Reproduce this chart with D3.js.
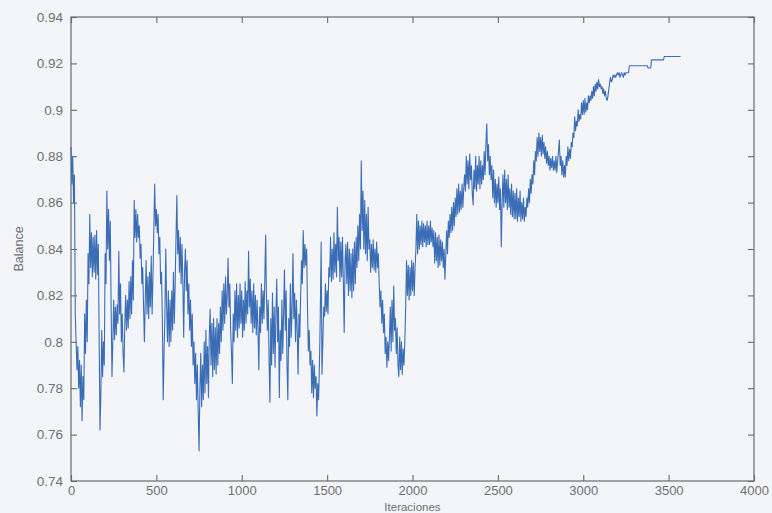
<!DOCTYPE html>
<html>
<head>
<meta charset="utf-8">
<script src="https://cdn.jsdelivr.net/npm/d3@7"></script>
<style>
  html, body { margin: 0; padding: 0; background: #f4f5f9; }
  svg { display: block; }
  text { font-family: "Liberation Sans", Arial, Helvetica, sans-serif; }
</style>
</head>
<body>
<script>
// ---- data ----
const iterStep = 5;            // iterations between consecutive samples
const balance = [
  // 0-45
  0.884, 0.868, 0.880, 0.860, 0.872, 0.812, 0.800, 0.788, 0.798, 0.780,
  // 50-95
  0.792, 0.772, 0.790, 0.766, 0.785, 0.775, 0.812, 0.795, 0.818, 0.800,
  // 100-145
  0.838, 0.825, 0.855, 0.832, 0.847, 0.828, 0.845, 0.830, 0.846, 0.827,
  // 150-195
  0.848, 0.829, 0.842, 0.800, 0.762, 0.778, 0.805, 0.785, 0.800, 0.790,
  // 200-245
  0.838, 0.825, 0.865, 0.840, 0.857, 0.835, 0.852, 0.815, 0.785, 0.800,
  // 250-295
  0.818, 0.801, 0.815, 0.803, 0.816, 0.808, 0.839, 0.812, 0.825, 0.800,
  // 300-345
  0.812, 0.795, 0.787, 0.808, 0.820, 0.805, 0.818, 0.806, 0.826, 0.810,
  // 350-395
  0.828, 0.812, 0.835, 0.818, 0.861, 0.845, 0.857, 0.843, 0.855, 0.845,
  // 400-445
  0.850, 0.836, 0.842, 0.825, 0.832, 0.815, 0.800, 0.818, 0.835, 0.812,
  // 450-495
  0.828, 0.810, 0.830, 0.815, 0.837, 0.812, 0.828, 0.848, 0.868, 0.850,
  // 500-545
  0.857, 0.847, 0.855, 0.838, 0.845, 0.825, 0.830, 0.810, 0.775, 0.795,
  // 550-595
  0.812, 0.840, 0.815, 0.800, 0.822, 0.798, 0.818, 0.800, 0.822, 0.805,
  // 600-645
  0.830, 0.808, 0.825, 0.845, 0.863, 0.838, 0.848, 0.830, 0.845, 0.825,
  // 650-695
  0.842, 0.826, 0.802, 0.830, 0.840, 0.822, 0.835, 0.812, 0.825, 0.805,
  // 700-745
  0.818, 0.798, 0.812, 0.790, 0.800, 0.782, 0.795, 0.775, 0.790, 0.770,
  // 750-795
  0.753, 0.780, 0.795, 0.772, 0.790, 0.775, 0.800, 0.778, 0.805, 0.782,
  // 800-845
  0.798, 0.776, 0.803, 0.814, 0.790, 0.808, 0.785, 0.810, 0.788, 0.806,
  // 850-895
  0.786, 0.810, 0.790, 0.808, 0.795, 0.815, 0.800, 0.822, 0.805, 0.825,
  // 900-945
  0.808, 0.828, 0.812, 0.820, 0.836, 0.815, 0.825, 0.805, 0.795, 0.782,
  // 950-995
  0.812, 0.800, 0.822, 0.805, 0.825, 0.802, 0.820, 0.806, 0.825, 0.808,
  // 1000-1045
  0.822, 0.802, 0.818, 0.805, 0.826, 0.808, 0.822, 0.812, 0.839, 0.815,
  // 1050-1095
  0.827, 0.808, 0.822, 0.804, 0.825, 0.806, 0.820, 0.803, 0.818, 0.805,
  // 1100-1145
  0.788, 0.815, 0.804, 0.825, 0.808, 0.822, 0.810, 0.827, 0.846, 0.818,
  // 1150-1195
  0.805, 0.818, 0.792, 0.774, 0.810, 0.790, 0.821, 0.795, 0.815, 0.789,
  // 1200-1245
  0.812, 0.827, 0.800, 0.815, 0.776, 0.805, 0.792, 0.818, 0.795, 0.812,
  // 1250-1295
  0.831, 0.805, 0.822, 0.790, 0.775, 0.810, 0.798, 0.825, 0.802, 0.815,
  // 1300-1345
  0.838, 0.810, 0.821, 0.800, 0.818, 0.805, 0.786, 0.812, 0.802, 0.820,
  // 1350-1395
  0.835, 0.825, 0.848, 0.832, 0.842, 0.833, 0.840, 0.815, 0.796, 0.805,
  // 1400-1445
  0.790, 0.796, 0.778, 0.792, 0.776, 0.790, 0.780, 0.785, 0.768, 0.782,
  // 1450-1495
  0.775, 0.790, 0.812, 0.843, 0.786, 0.800, 0.815, 0.811, 0.825, 0.813,
  // 1500-1545
  0.822, 0.812, 0.832, 0.828, 0.845, 0.826, 0.840, 0.827, 0.847, 0.830,
  // 1550-1595
  0.842, 0.828, 0.858, 0.835, 0.845, 0.826, 0.843, 0.828, 0.845, 0.826,
  // 1600-1645
  0.804, 0.835, 0.842, 0.825, 0.843, 0.820, 0.840, 0.822, 0.838, 0.819,
  // 1650-1695
  0.840, 0.822, 0.843, 0.825, 0.845, 0.832, 0.850, 0.835, 0.855, 0.840,
  // 1700-1745
  0.878, 0.848, 0.865, 0.840, 0.861, 0.838, 0.855, 0.835, 0.858, 0.840,
  // 1750-1795
  0.844, 0.830, 0.842, 0.832, 0.844, 0.831, 0.840, 0.830, 0.843, 0.832,
  // 1800-1845
  0.838, 0.825, 0.815, 0.822, 0.808, 0.818, 0.804, 0.812, 0.795, 0.802,
  // 1850-1895
  0.789, 0.800, 0.792, 0.802, 0.815, 0.796, 0.818, 0.800, 0.824, 0.805,
  // 1900-1945
  0.810, 0.795, 0.806, 0.790, 0.785, 0.802, 0.788, 0.800, 0.786, 0.797,
  // 1950-1995
  0.790, 0.800, 0.815, 0.835, 0.820, 0.833, 0.818, 0.832, 0.820, 0.835,
  // 2000-2045
  0.822, 0.834, 0.820, 0.832, 0.840, 0.855, 0.838, 0.852, 0.840, 0.850,
  // 2050-2095
  0.842, 0.852, 0.841, 0.851, 0.843, 0.850, 0.841, 0.852, 0.842, 0.850,
  // 2100-2145
  0.842, 0.852, 0.843, 0.849, 0.841, 0.848, 0.834, 0.847, 0.835, 0.845,
  // 2150-2195
  0.832, 0.846, 0.833, 0.844, 0.835, 0.843, 0.832, 0.840, 0.827, 0.838,
  // 2200-2245
  0.848, 0.838, 0.852, 0.845, 0.855, 0.847, 0.858, 0.848, 0.860, 0.850,
  // 2250-2295
  0.862, 0.854, 0.866, 0.855, 0.868, 0.856, 0.865, 0.857, 0.868, 0.858,
  // 2300-2345
  0.866, 0.872, 0.865, 0.880, 0.868, 0.878, 0.866, 0.881, 0.870, 0.876,
  // 2350-2395
  0.864, 0.859, 0.874, 0.866, 0.880, 0.865, 0.876, 0.868, 0.880, 0.866,
  // 2400-2445
  0.878, 0.868, 0.876, 0.870, 0.882, 0.872, 0.885, 0.894, 0.878, 0.885,
  // 2450-2495
  0.872, 0.880, 0.870, 0.876, 0.862, 0.874, 0.860, 0.870, 0.858, 0.868,
  // 2500-2545
  0.860, 0.871, 0.857, 0.866, 0.841, 0.860, 0.872, 0.858, 0.874, 0.860,
  // 2550-2595
  0.870, 0.857, 0.872, 0.858, 0.866, 0.855, 0.868, 0.854, 0.865, 0.853,
  // 2600-2645
  0.864, 0.853, 0.866, 0.852, 0.862, 0.854, 0.865, 0.852, 0.860, 0.853,
  // 2650-2695
  0.862, 0.852, 0.858, 0.854, 0.862, 0.858, 0.866, 0.860, 0.870, 0.864,
  // 2700-2745
  0.872, 0.868, 0.878, 0.872, 0.882, 0.878, 0.888, 0.880, 0.890, 0.882,
  // 2750-2795
  0.888, 0.880, 0.889, 0.881, 0.886, 0.879, 0.884, 0.877, 0.882, 0.876,
  // 2800-2845
  0.880, 0.874, 0.879, 0.875, 0.880, 0.874, 0.878, 0.874, 0.880, 0.873,
  // 2850-2895
  0.878, 0.882, 0.887, 0.876, 0.880, 0.872, 0.878, 0.871, 0.876, 0.871,
  // 2900-2945
  0.880, 0.876, 0.884, 0.878, 0.883, 0.879, 0.886, 0.884, 0.890, 0.888,
  // 2950-2995
  0.897, 0.891, 0.895, 0.893, 0.900, 0.895, 0.898, 0.896, 0.903, 0.898,
  // 3000-3045
  0.904, 0.898, 0.905, 0.899, 0.903, 0.900, 0.906, 0.903, 0.906, 0.904,
  // 3050-3095
  0.908, 0.905, 0.910, 0.906, 0.911, 0.908, 0.912, 0.909, 0.913, 0.910,
  // 3100-3145
  0.911, 0.909, 0.910, 0.907, 0.909, 0.906, 0.908, 0.905, 0.904, 0.906,
  // 3150-3195
  0.909, 0.912, 0.914, 0.912, 0.913, 0.915, 0.914, 0.915, 0.914, 0.915,
  // 3200-3245
  0.916, 0.915, 0.916, 0.914, 0.915, 0.916, 0.915, 0.914, 0.916, 0.915,
  // 3250-3295
  0.916, 0.916, 0.916, 0.916, 0.919, 0.919, 0.919, 0.919, 0.919, 0.919,
  // 3300-3345
  0.919, 0.919, 0.919, 0.919, 0.919, 0.919, 0.919, 0.919, 0.919, 0.919,
  // 3350-3395
  0.919, 0.919, 0.919, 0.919, 0.919, 0.919, 0.918, 0.918, 0.918, 0.918,
  // 3400-3445
  0.9215, 0.9215, 0.9215, 0.9215, 0.9215, 0.9215, 0.9215, 0.9215, 0.9215, 0.9215,
  // 3450-3495
  0.9215, 0.9215, 0.9215, 0.9215, 0.9215, 0.923, 0.923, 0.923, 0.923, 0.923,
  // 3500-3545
  0.923, 0.923, 0.923, 0.923, 0.923, 0.923, 0.923, 0.923, 0.923, 0.923,
  // 3550-3570
  0.923, 0.923, 0.923, 0.923, 0.923
];
const xTicks = [0, 500, 1000, 1500, 2000, 2500, 3000, 3500, 4000];
const yTicks = [0.74, 0.76, 0.78, 0.80, 0.82, 0.84, 0.86, 0.88, 0.90, 0.92, 0.94];
const xLabel = "Iteraciones";
const yLabel = "Balance";

// ---- layout ----
const W = 772, H = 513;
const m = { left: 71, right: 18, top: 17, bottom: 32 };
const iw = W - m.left - m.right, ih = H - m.top - m.bottom;

const svg = d3.select("body").append("svg").attr("width", W).attr("height", H);
svg.append("rect").attr("width", W).attr("height", H).attr("fill", "#f4f5f9");

const x = d3.scaleLinear().domain([0, 4000]).range([m.left, m.left + iw]);
const y = d3.scaleLinear().domain([0.74, 0.94]).range([m.top + ih, m.top]);

const axisColor = "#656d6e";
const labelColor = "#6e6f78";
const fmtY = d => d3.format(".2f")(d).replace(/0$/, "").replace(/\.0*$/, "");

function styleAxis(g, showText, size) {
  g.select(".domain").remove();
  g.selectAll(".tick line").attr("stroke", axisColor).attr("stroke-width", 1.1);
  g.selectAll(".tick text").attr("fill", labelColor).attr("font-size", size)
    .style("display", showText ? null : "none");
}

// bottom axis (ticks inward)
svg.append("g").attr("transform", `translate(0,${m.top + ih})`)
  .call(d3.axisBottom(x).tickValues(xTicks).tickSizeInner(-6).tickSizeOuter(0).tickPadding(5).tickFormat(d3.format("d")))
  .call(g => styleAxis(g, true, 13));
// top axis (mirror ticks)
svg.append("g").attr("transform", `translate(0,${m.top})`)
  .call(d3.axisTop(x).tickValues(xTicks).tickSizeInner(-6).tickSizeOuter(0))
  .call(g => styleAxis(g, false, 13));
// left axis
svg.append("g").attr("transform", `translate(${m.left},0)`)
  .call(d3.axisLeft(y).tickValues(yTicks).tickSizeInner(-6).tickSizeOuter(0).tickPadding(8).tickFormat(fmtY))
  .call(g => styleAxis(g, true, 13.5));
// right axis
svg.append("g").attr("transform", `translate(${m.left + iw},0)`)
  .call(d3.axisRight(y).tickValues(yTicks).tickSizeInner(-6).tickSizeOuter(0))
  .call(g => styleAxis(g, false, 13));

// box
svg.append("rect")
  .attr("x", x(0)).attr("y", y(0.94))
  .attr("width", x(4000) - x(0)).attr("height", y(0.74) - y(0.94))
  .attr("fill", "none").attr("stroke", axisColor).attr("stroke-width", 1.2);

// line
const line = d3.line().x((d, i) => x(i * iterStep)).y(d => y(d));
svg.append("path").datum(balance)
  .attr("d", line)
  .attr("fill", "none")
  .attr("stroke", "#3a6db6")
  .attr("stroke-width", 1.1)
  .attr("stroke-linejoin", "round");

// labels
svg.append("text").attr("x", (x(0) + x(4000)) / 2).attr("y", 510.5)
  .attr("text-anchor", "middle").attr("font-size", 11.5).attr("fill", labelColor)
  .text(xLabel);
svg.append("text").attr("transform", `translate(23,${(y(0.74) + y(0.94)) / 2}) rotate(-90)`)
  .attr("text-anchor", "middle").attr("font-size", 12.5).attr("fill", labelColor)
  .text(yLabel);
</script>
</body>
</html>
